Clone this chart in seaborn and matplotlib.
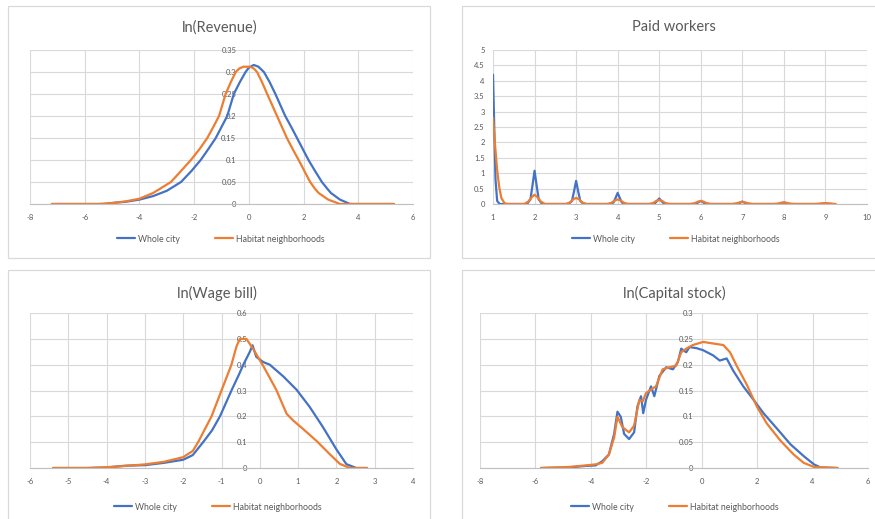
import numpy as np
import pandas as pd
import matplotlib
matplotlib.use("Agg")
import matplotlib.pyplot as plt
import seaborn as sns
from matplotlib.patches import Rectangle
from matplotlib.lines import Line2D
from matplotlib.ticker import FuncFormatter

# ---------------- data ----------------
series_names = ["Whole city", "Habitat neighborhoods"]
titles = ["ln(Revenue)", "Paid workers", "ln(Wage bill)", "ln(Capital stock)"]

rev_city_x = [-7.2, -5.3, -4.9, -4.5, -4.0, -3.5, -3.0, -2.48, -2.1, -1.76, -1.48, -1.21,
              -1.0, -0.79, -0.67, -0.55, -0.33, -0.12, 0.0, 0.18, 0.35, 0.55, 0.76, 0.97,
              1.15, 1.33, 1.55, 1.76, 1.97, 2.18, 2.42, 2.67, 2.85, 3.0, 3.33, 3.7, 5.3]
rev_city_y = [0, 0, 0.003, 0.005, 0.01, 0.018, 0.03, 0.05, 0.075, 0.1, 0.125, 0.15,
              0.175, 0.2, 0.225, 0.25, 0.277, 0.3, 0.31, 0.316, 0.312, 0.3, 0.277, 0.25,
              0.225, 0.2, 0.175, 0.15, 0.125, 0.1, 0.075, 0.05, 0.036, 0.025, 0.01, 0, 0]
rev_nbhd_x = [-7.2, -5.5, -5.0, -4.5, -4.0, -3.5, -2.85, -2.48, -2.12, -1.8, -1.52, -1.3,
              -1.09, -0.97, -0.85, -0.66, -0.48, -0.35, -0.2, 0.05, 0.18, 0.3, 0.48, 0.67,
              0.85, 1.03, 1.21, 1.39, 1.6, 1.82, 2.03, 2.24, 2.4, 2.55, 2.9, 3.33, 5.3]
rev_nbhd_y = [0, 0, 0.002, 0.006, 0.012, 0.025, 0.05, 0.075, 0.1, 0.125, 0.15, 0.175,
              0.2, 0.225, 0.25, 0.277, 0.3, 0.308, 0.312, 0.312, 0.308, 0.3, 0.277, 0.25,
              0.225, 0.2, 0.175, 0.15, 0.125, 0.1, 0.075, 0.05, 0.036, 0.025, 0.01, 0, 0]

work_city_x = [1.0, 1.03, 1.06, 1.1, 1.16,
               1.82, 1.9, 1.95, 2.0, 2.05, 2.1, 2.18,
               2.82, 2.9, 2.95, 3.0, 3.05, 3.1, 3.18,
               3.82, 3.9, 3.95, 4.0, 4.05, 4.1, 4.18,
               4.82, 4.9, 4.95, 5.0, 5.05, 5.1, 5.18,
               5.82, 5.9, 5.95, 6.0, 6.05, 6.1, 6.18,
               6.82, 6.9, 6.95, 7.0, 7.05, 7.1, 7.18,
               7.82, 7.9, 7.95, 8.0, 8.05, 8.1, 8.18,
               8.82, 8.9, 8.95, 9.0, 9.05, 9.1, 9.18]
work_city_y = [4.2, 2.5, 0.8, 0.1, 0,
               0, 0.15, 0.6, 1.08, 0.6, 0.15, 0,
               0, 0.1, 0.41, 0.75, 0.41, 0.1, 0,
               0, 0.05, 0.2, 0.36, 0.2, 0.05, 0,
               0, 0.03, 0.1, 0.18, 0.1, 0.03, 0,
               0, 0.02, 0.06, 0.1, 0.06, 0.02, 0,
               0, 0.01, 0.045, 0.08, 0.045, 0.01, 0,
               0, 0.01, 0.03, 0.05, 0.03, 0.01, 0,
               0, 0.005, 0.015, 0.03, 0.015, 0.005, 0]
work_nbhd_x = [1.0, 1.05, 1.1, 1.15, 1.2, 1.27, 1.33,
               1.75, 1.85, 1.93, 2.0, 2.07, 2.15, 2.25,
               2.75, 2.85, 2.93, 3.0, 3.07, 3.15, 3.25,
               3.75, 3.85, 3.93, 4.0, 4.07, 4.15, 4.25,
               4.75, 4.85, 4.93, 5.0, 5.07, 5.15, 5.25,
               5.75, 5.85, 5.93, 6.0, 6.07, 6.15, 6.25,
               6.75, 6.85, 6.93, 7.0, 7.07, 7.15, 7.25,
               7.75, 7.85, 7.93, 8.0, 8.07, 8.15, 8.25,
               8.75, 8.85, 8.93, 9.0, 9.07, 9.15, 9.25]
work_nbhd_y = [2.8, 1.9, 1.1, 0.55, 0.2, 0.04, 0,
               0, 0.08, 0.22, 0.3, 0.22, 0.08, 0,
               0, 0.05, 0.15, 0.2, 0.15, 0.05, 0,
               0, 0.04, 0.11, 0.15, 0.11, 0.04, 0,
               0, 0.03, 0.1, 0.13, 0.1, 0.03, 0,
               0, 0.025, 0.075, 0.1, 0.075, 0.025, 0,
               0, 0.02, 0.05, 0.07, 0.05, 0.02, 0,
               0, 0.01, 0.04, 0.05, 0.04, 0.01, 0,
               0, 0.01, 0.02, 0.03, 0.02, 0.01, 0]

wage_city_x = [-5.4, -4.5, -4.0, -3.5, -3.0, -2.5, -2.0, -1.75, -1.48, -1.25, -1.04, -0.74,
               -0.55, -0.43, -0.26, -0.19, -0.09, 0.09, 0.26, 0.61, 0.96, 1.3, 1.65, 2.0,
               2.26, 2.52, 2.8]
wage_city_y = [0, 0, 0.002, 0.009, 0.011, 0.02, 0.032, 0.05, 0.1, 0.145, 0.2, 0.3,
               0.36, 0.4, 0.45, 0.475, 0.43, 0.41, 0.4, 0.355, 0.303, 0.237, 0.158, 0.072,
               0.015, 0, 0]
wage_nbhd_x = [-5.4, -4.5, -4.0, -3.5, -3.0, -2.5, -2.0, -1.75, -1.61, -1.26, -1.0, -0.74,
               -0.61, -0.52, -0.35, -0.17, 0.09, 0.43, 0.7, 0.87, 1.13, 1.48, 1.83, 2.09,
               2.35, 2.8]
wage_nbhd_y = [0, 0, 0.003, 0.008, 0.014, 0.024, 0.042, 0.066, 0.1, 0.2, 0.3, 0.4,
               0.47, 0.5, 0.5, 0.46, 0.395, 0.303, 0.21, 0.184, 0.151, 0.105, 0.053, 0.016,
               0, 0]

cap_city_x = [-5.8, -4.8, -4.19, -3.83, -3.59, -3.35, -3.16, -3.04, -2.92, -2.8, -2.62, -2.44,
              -2.32, -2.19, -2.11, -2.01, -1.83, -1.71, -1.53, -1.28, -1.04, -0.86, -0.74,
              -0.56, -0.44, -0.19, 0.05, 0.41, 0.65, 0.9, 1.14, 1.5, 1.87, 2.23, 2.72, 3.2,
              3.68, 4.05, 4.29, 4.9]
cap_city_y = [0, 0.001, 0.004, 0.005, 0.013, 0.026, 0.066, 0.109, 0.099, 0.066, 0.056, 0.069,
              0.119, 0.139, 0.106, 0.132, 0.158, 0.139, 0.178, 0.195, 0.191, 0.205, 0.231,
              0.224, 0.234, 0.232, 0.228, 0.218, 0.208, 0.212, 0.188, 0.158, 0.132, 0.106,
              0.076, 0.046, 0.023, 0.007, 0.001, 0]
cap_nbhd_x = [-5.8, -4.8, -4.19, -3.83, -3.59, -3.35, -3.16, -3.04, -2.86, -2.62, -2.44, -2.25,
              -2.13, -2.01, -1.83, -1.65, -1.41, -1.16, -0.92, -0.74, -0.56, -0.32, 0.05,
              0.41, 0.78, 1.02, 1.26, 1.62, 1.99, 2.35, 2.84, 3.32, 3.68, 4.05, 4.9]
cap_nbhd_y = [0, 0.002, 0.005, 0.007, 0.01, 0.026, 0.059, 0.099, 0.079, 0.069, 0.082, 0.132,
              0.129, 0.145, 0.152, 0.158, 0.191, 0.195, 0.198, 0.224, 0.231, 0.238, 0.244,
              0.241, 0.238, 0.224, 0.198, 0.162, 0.119, 0.086, 0.053, 0.026, 0.01, 0.002, 0]

# ---------------- style ----------------
sns.set_theme(style="white")
plt.rcParams['font.family'] = ['Lato', 'DejaVu Sans']

W, H = 875, 519
fig = plt.figure(figsize=(W / 100, H / 100), dpi=100)
fig.patch.set_facecolor("white")

BLUE = "#4472C4"
ORANGE = "#ED7D31"
GRID = "#D9D9D9"
TXT = "#595959"


def px_axes(l, t, r, b):
    return fig.add_axes([l / W, 1 - b / H, (r - l) / W, (b - t) / H])


def box(l, t, r, b):
    fig.add_artist(Rectangle((l / W, 1 - b / H), (r - l) / W, (b - t) / H,
                             transform=fig.transFigure, fill=False,
                             ec=GRID, lw=0.9))


fmt = FuncFormatter(lambda v, p: f"{v:g}")


def panel(ax, cx, cy, nx, ny, xlim, ylim, xticks, yticks, zero_axis, ypad):
    df = pd.DataFrame({
        "x": list(cx) + list(nx),
        "y": list(cy) + list(ny),
        "series": [series_names[0]] * len(cx) + [series_names[1]] * len(nx),
    })
    sns.lineplot(data=df, x="x", y="y", hue="series",
                 palette={series_names[0]: BLUE, series_names[1]: ORANGE},
                 sort=False, estimator=None, ax=ax, legend=False, lw=1.6)
    ax.set_xlim(xlim)
    ax.set_ylim(ylim)
    ax.set_xticks(xticks)
    ax.set_yticks(yticks)
    ax.xaxis.set_major_formatter(fmt)
    ax.yaxis.set_major_formatter(fmt)
    ax.grid(True, color=GRID, lw=0.8)
    ax.set_axisbelow(True)
    ax.set_xlabel("")
    ax.set_ylabel("")
    ax.set_facecolor("white")
    for s in ["top", "right"]:
        ax.spines[s].set_visible(False)
    ax.spines["bottom"].set_color("#BFBFBF")
    ax.spines["bottom"].set_linewidth(0.8)
    if zero_axis:
        ax.spines["left"].set_position(("data", 0))
    ax.spines["left"].set_visible(False)
    ax.tick_params(axis="both", length=0, labelsize=5.5, labelcolor=TXT)
    ax.tick_params(axis="x", pad=7)
    ax.tick_params(axis="y", pad=ypad)


def legend(cx, cy):
    handles = [Line2D([], [], color=BLUE, lw=1.6), Line2D([], [], color=ORANGE, lw=1.6)]
    fig.legend(handles, series_names, loc="center",
               bbox_to_anchor=(cx / W, 1 - cy / H), ncol=2, frameon=False,
               fontsize=6.3, handlelength=2.0, handletextpad=0.4,
               columnspacing=4.0, labelcolor=TXT)


# panel frames
box(8, 6, 430, 258)
box(462, 6, 880, 258)
box(8, 270, 430, 525)
box(462, 270, 880, 525)

# ln(Revenue)
ax1 = px_axes(30, 50, 413, 204)
panel(ax1, rev_city_x, rev_city_y, rev_nbhd_x, rev_nbhd_y,
      (-8, 6), (0, 0.35), [-8, -6, -4, -2, 0, 2, 4, 6],
      [0, 0.05, 0.1, 0.15, 0.2, 0.25, 0.3, 0.35], True, 9)

# Paid workers
ax2 = px_axes(493, 50, 867, 204)
panel(ax2, work_city_x, work_city_y, work_nbhd_x, work_nbhd_y,
      (1, 10), (0, 5), list(range(1, 11)),
      [0, 0.5, 1, 1.5, 2, 2.5, 3, 3.5, 4, 4.5, 5], False, 6)

# ln(Wage bill)
ax3 = px_axes(30, 313, 413, 468)
panel(ax3, wage_city_x, wage_city_y, wage_nbhd_x, wage_nbhd_y,
      (-6, 4), (0, 0.6), list(range(-6, 5)),
      [0, 0.1, 0.2, 0.3, 0.4, 0.5, 0.6], True, 9)

# ln(Capital stock)
ax4 = px_axes(480, 313, 868, 468)
panel(ax4, cap_city_x, cap_city_y, cap_nbhd_x, cap_nbhd_y,
      (-8, 6), (0, 0.3), [-8, -6, -4, -2, 0, 2, 4, 6],
      [0, 0.05, 0.1, 0.15, 0.2, 0.25, 0.3], True, 6)

# titles
for (cx, cy), t in zip([(220, 28), (674, 27), (217, 293), (674, 293)], titles):
    fig.text(cx / W, 1 - cy / H, t, ha="center", va="center", fontsize=10.5, color=TXT)

# legends
legend(221, 239)
legend(676, 239)
legend(218, 507)
legend(675, 507)

fig.savefig("out.png", dpi=100, facecolor="white")
